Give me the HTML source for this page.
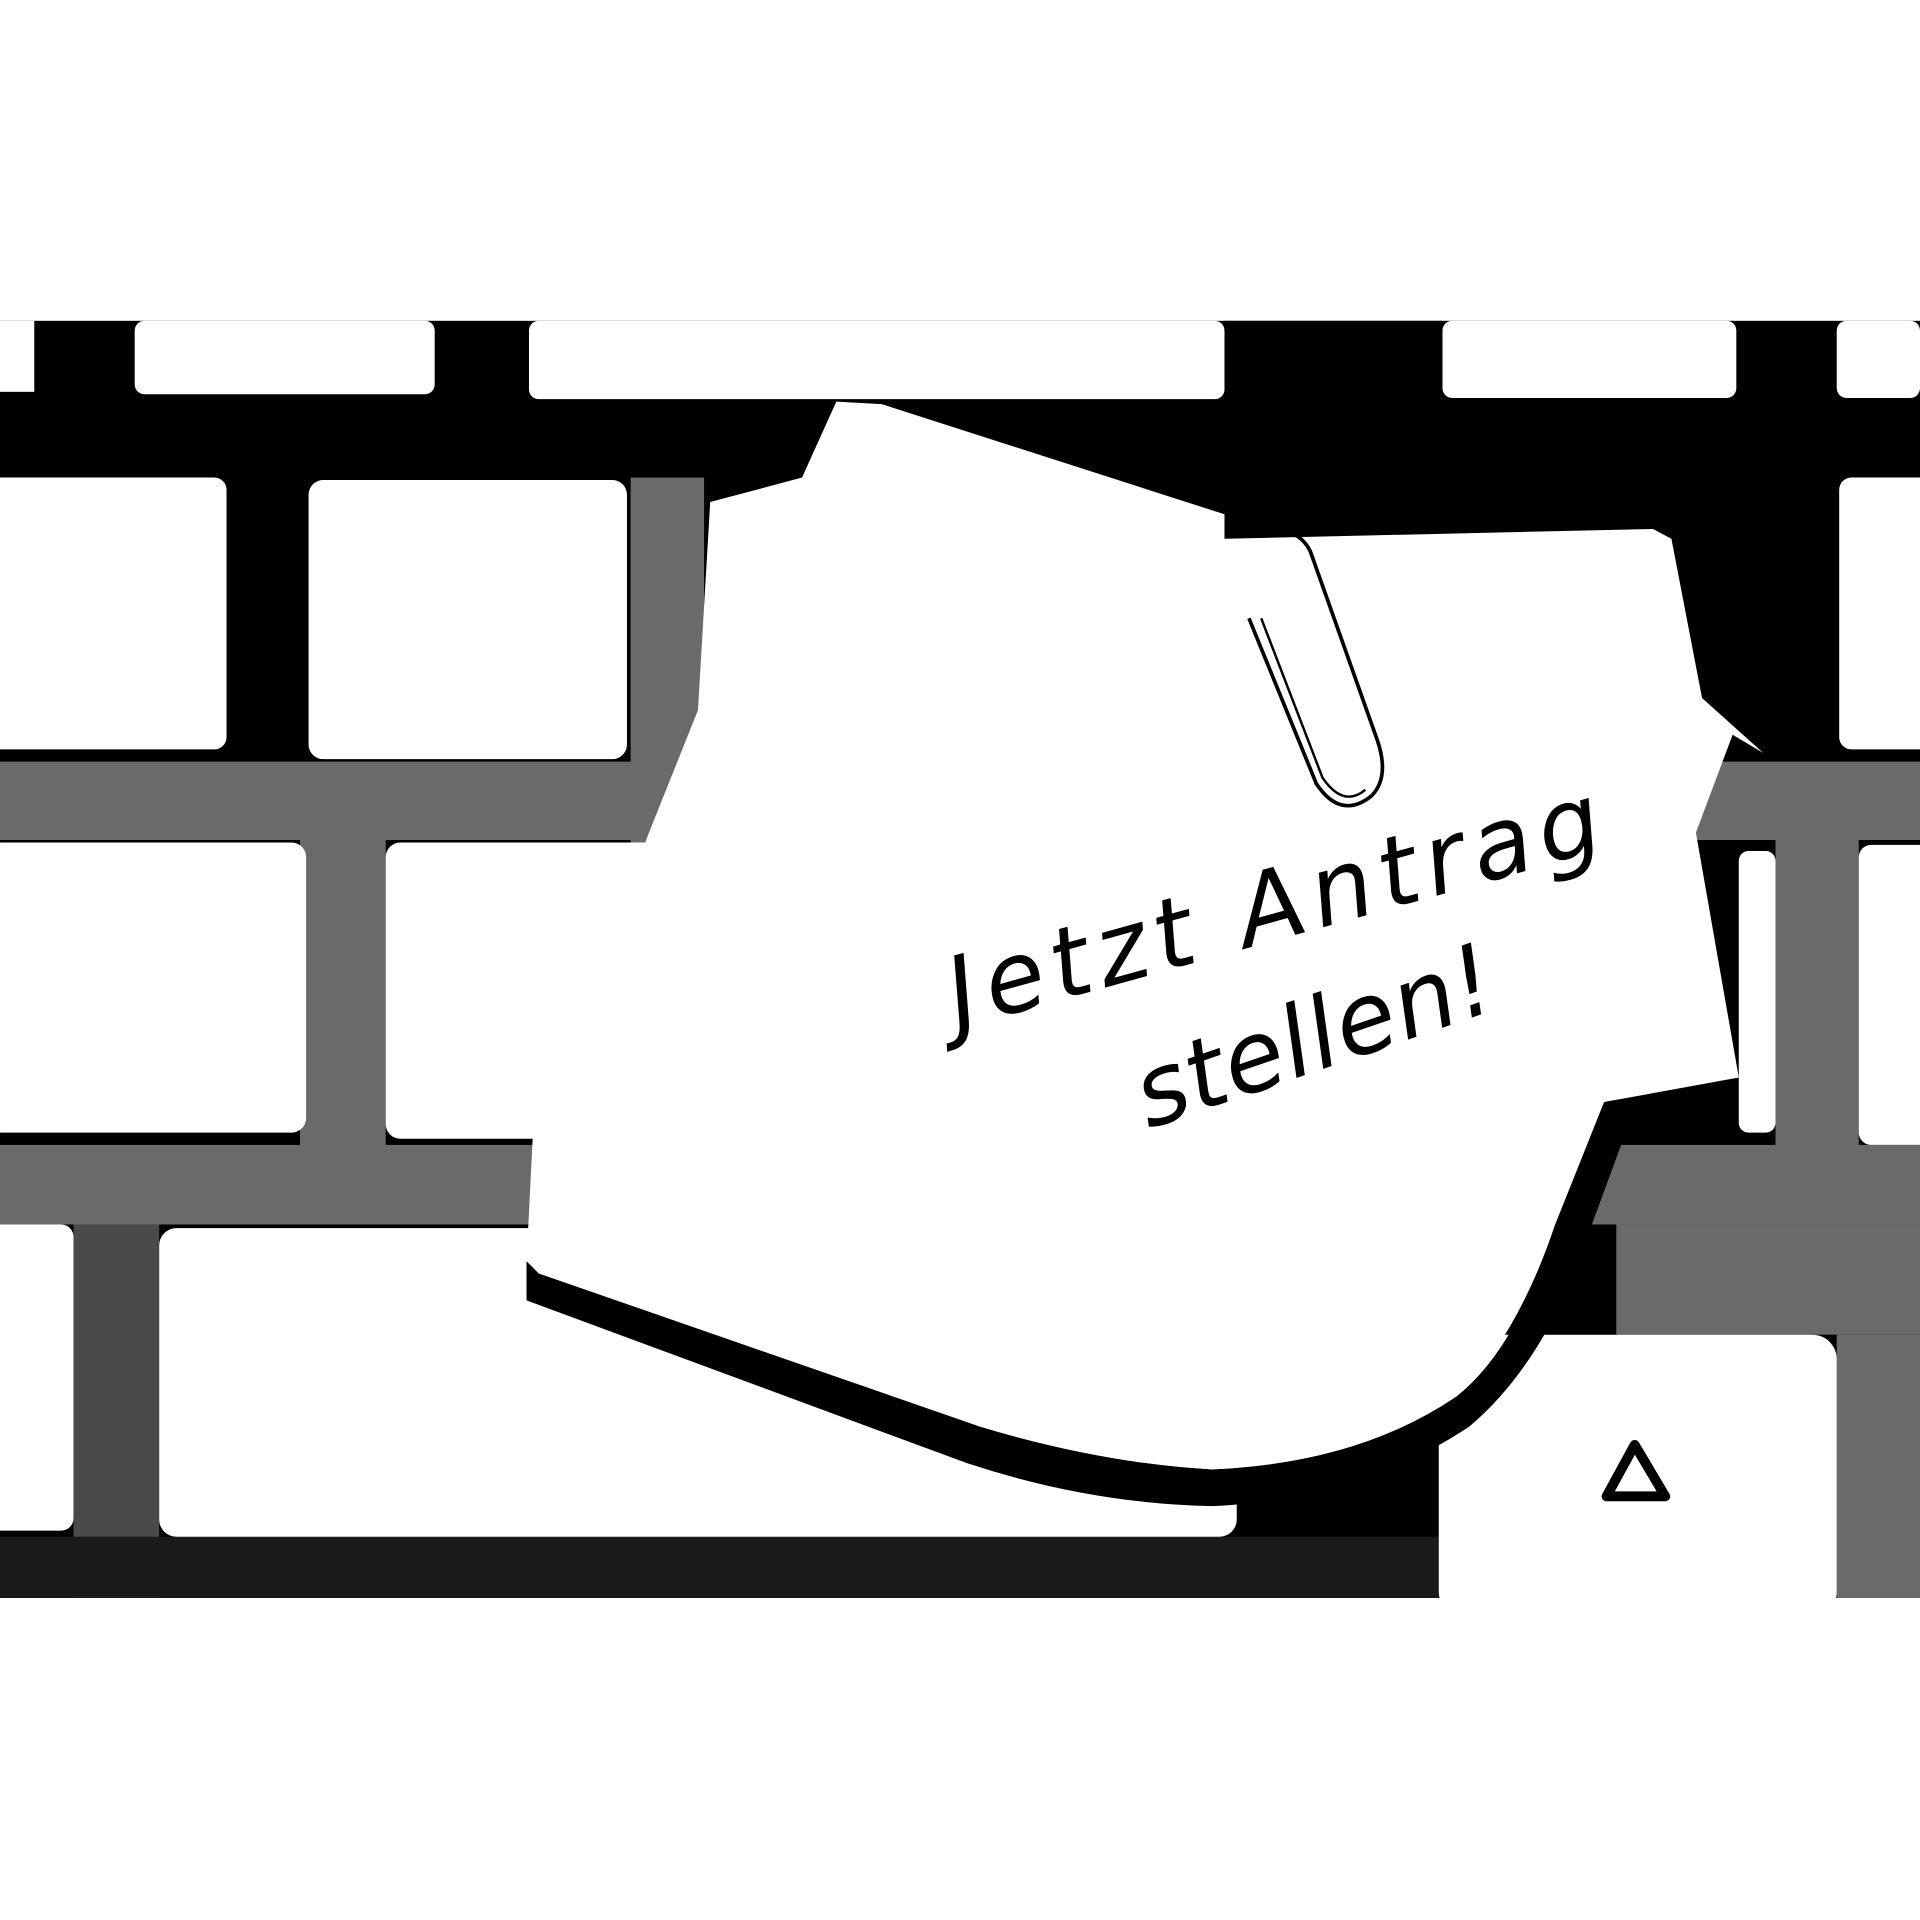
<!DOCTYPE html>
<html><head><meta charset="utf-8"><style>html,body{margin:0;padding:0;background:#fff}svg{display:block}</style></head>
<body>
<svg width="1920" height="1920" viewBox="0 0 1568 1568" xmlns="http://www.w3.org/2000/svg">
<rect width="1568" height="1568" fill="#fff"/>
<rect x="0" y="262" width="1568" height="1043" fill="#000"/>
<!-- speckled gaps -->
<g fill="#6a6a6a">
<rect x="0" y="622" width="1568" height="64"/>
<rect x="0" y="935" width="1568" height="65"/>
<rect x="515" y="390" width="60" height="300"/>
<rect x="245" y="686" width="70" height="250"/>
<rect x="1450" y="686" width="68" height="250"/>
<rect x="1320" y="1000" width="248" height="90"/>
<rect x="1500" y="1090" width="68" height="215"/>
</g>
<rect x="60" y="1000" width="70" height="305" fill="#4a4a4a"/>
<rect x="0" y="1255" width="1175" height="50" fill="#1a1a1a"/>
<g fill="#fff">
<rect x="0" y="262" width="28" height="58"/>
<rect x="110" y="262" width="245" height="60" rx="8"/>
<rect x="432" y="262" width="568" height="64" rx="8"/>
<rect x="1178" y="262" width="240" height="63" rx="8"/>
<rect x="1500" y="262" width="68" height="63" rx="8"/>
<rect x="-10" y="390" width="195" height="222" rx="10"/>
<rect x="252" y="392" width="260" height="228" rx="12"/>
<rect x="1502" y="390" width="80" height="222" rx="10"/>
<rect x="-10" y="688" width="260" height="237" rx="12"/>
<rect x="315" y="688" width="250" height="242" rx="12"/>
<rect x="1518" y="690" width="60" height="245" rx="10"/>
<rect x="1420" y="695" width="30" height="230" rx="8"/>
<rect x="-10" y="1000" width="70" height="250" rx="10"/>
<rect x="130" y="1003" width="880" height="252" rx="14"/>
<rect x="1175" y="1090" width="325" height="230" rx="20"/>
</g>
<rect x="1000" y="262" width="178" height="170" fill="#000"/>
<polygon points="1335,1180 1312,1222 1360,1222" fill="none" stroke="#000" stroke-width="8" stroke-linejoin="round"/>
<!-- note shadow -->
<path d="M430,1030 L800,1165 Q900,1195 990,1200 Q1110,1195 1190,1140 Q1240,1100 1270,1000 L1310,900 L1335,905 L1300,1000 Q1265,1110 1200,1165 Q1110,1225 990,1230 Q890,1228 790,1195 L430,1062 Z" fill="#000"/>
<!-- note -->
<path fill="#fff" d="M683,328 L720,330 L1000,420 L1000,440 L1350,432 L1365,440 L1390,570 L1440,615 L1415,600 L1385,680 L1420,880 L1310,900 L1270,1000 Q1240,1090 1190,1140 Q1110,1195 990,1200 Q900,1195 800,1165 L440,1040 L430,1030 L435,930 L530,680 L570,580 L580,410 L655,390 Z"/>
<!-- paper clip -->
<path d="M1020,505 L1075,640 Q1095,670 1120,650 Q1135,635 1125,605 L1070,450 Q1060,430 1035,435" fill="none" stroke="#000" stroke-width="3"/>
<path d="M1030,505 L1080,635 Q1097,660 1115,645" fill="none" stroke="#000" stroke-width="2"/>
<g font-family="'DejaVu Sans','Liberation Sans',sans-serif" font-style="italic" fill="#000">
<text x="782" y="840" font-size="80" textLength="550" lengthAdjust="spacing" transform="rotate(-15.5 782 840)">Jetzt Antrag</text>
<text x="938" y="922" font-size="80" textLength="305" lengthAdjust="spacing" transform="rotate(-19 938 922)">stellen!</text>
</g>
</svg>
</body></html>
